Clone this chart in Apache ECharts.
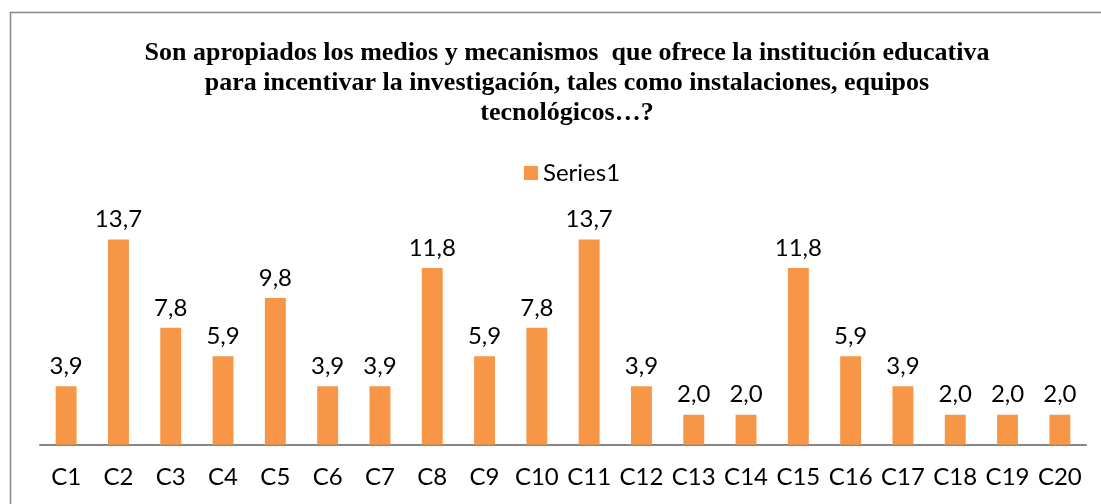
<!DOCTYPE html>
<html>
<head>
<meta charset="utf-8">
<script src="https://cdn.jsdelivr.net/npm/echarts@6/dist/echarts.min.js"></script>
<style>
html, body {margin: 0; padding: 0; background: #fff;}
#chart {width: 1101px; height: 504px;}
</style>
</head>
<body>
<div id="chart"></div>
<script>
var categories = ["C1", "C2", "C3", "C4", "C5", "C6", "C7", "C8", "C9", "C10",
    "C11", "C12", "C13", "C14", "C15", "C16", "C17", "C18", "C19", "C20"];
var series1 = [3.9, 13.7, 7.8, 5.9, 9.8, 3.9, 3.9, 11.8, 5.9, 7.8,
    13.7, 3.9, 2.0, 2.0, 11.8, 5.9, 3.9, 2.0, 2.0, 2.0];
var titleLines = [
    "Son apropiados los medios y mecanismos  que ofrece la institución educativa",
    "para incentivar la investigación, tales como instalaciones, equipos",
    "tecnológicos…?"
];

var chart = echarts.init(document.getElementById("chart"));
chart.setOption({
    animation: false,
    graphic: [{
        type: "rect",
        shape: {x: 10.5, y: 12.5, width: 1200, height: 600},
        style: {fill: "none", stroke: "#868686", lineWidth: 1.5},
        silent: true
    }],
    title: {
        text: titleLines.join("\n"),
        left: 562,
        textAlign: "center",
        top: 33,
        textStyle: {
            fontFamily: "Liberation Serif",
            fontWeight: "bold",
            fontSize: 26,
            lineHeight: 30,
            color: "#000"
        }
    },
    legend: {
        data: ["Series1"],
        top: 156,
        left: 519,
        icon: "rect",
        itemWidth: 14,
        itemHeight: 14,
        itemGap: 6,
        textStyle: {fontFamily: "Lato", fontSize: 24, color: "#000"}
    },
    grid: {left: 40, right: 15, top: 205, bottom: 59.3, containLabel: false},
    xAxis: {
        type: "category",
        data: categories,
        axisLine: {lineStyle: {color: "#868686", width: 2}},
        axisTick: {show: false},
        axisLabel: {fontFamily: "Lato", fontSize: 24, color: "#000", margin: 21, interval: 0}
    },
    yAxis: {
        type: "value",
        min: 0,
        max: 16,
        show: false,
        splitLine: {show: false}
    },
    series: [{
        name: "Series1",
        type: "bar",
        data: series1,
        barCategoryGap: "60%",
        itemStyle: {color: "#F79646"},
        label: {
            show: true,
            position: "top",
            distance: 8,
            fontFamily: "Lato",
            fontSize: 24,
            color: "#000",
            formatter: function (p) {
                return p.value.toFixed(1).replace(".", ",");
            }
        }
    }]
});
</script>
</body>
</html>
